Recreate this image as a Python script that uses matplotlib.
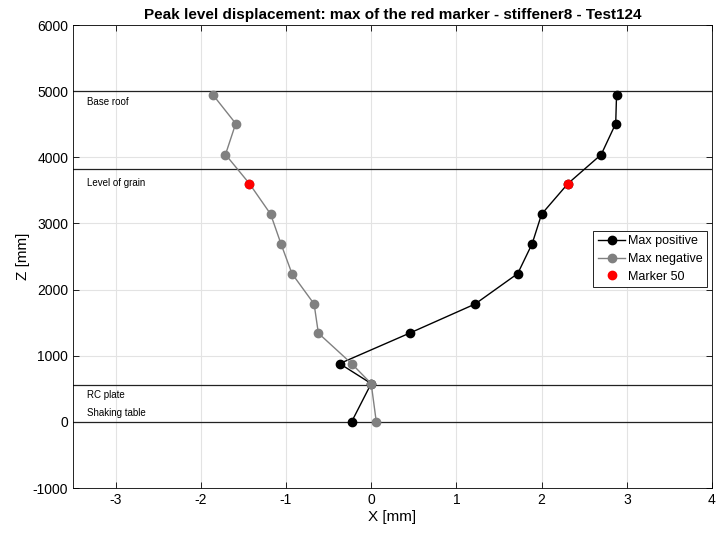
import numpy as np
import matplotlib.pyplot as plt

plt.rcParams['font.family'] = ['Liberation Sans', 'DejaVu Sans']
plt.rcParams['axes.unicode_minus'] = False

# level heights [mm]
z = [0, 579, 881, 1341, 1782, 2242, 2696, 3140, 3603, 4042, 4510, 4949]
x_pos = [-0.23, 0.0, -0.37, 0.45, 1.22, 1.72, 1.89, 2.00, 2.31, 2.70, 2.87, 2.88]
x_neg = [0.06, 0.0, -0.23, -0.62, -0.67, -0.93, -1.06, -1.18, -1.43, -1.71, -1.59, -1.86]
marker_idx = 8

# reference levels
levels = [5000, 3820, 555, 0]
level_names = ['Base roof', 'Level of grain', 'RC plate', 'Shaking table']
label_z = [4840, 3610, 410, 140]

fig = plt.figure(figsize=(7.17, 5.39), dpi=100)
ax = fig.add_axes([0.1018, 0.0946, 0.8912, 0.859])

for lv in levels:
    ax.axhline(lv, color='#222222', lw=0.9, zorder=1)
for name, lz in zip(level_names, label_z):
    ax.text(-3.33, lz, name, fontsize=7, va='center', ha='left')

ax.plot(x_pos, z, '-o', color='black', lw=1, ms=6, label='Max positive', zorder=3)
ax.plot(x_neg, z, '-o', color='#808080', lw=1, ms=6, label='Max negative', zorder=3)
ax.plot([x_pos[marker_idx], x_neg[marker_idx]], [z[marker_idx], z[marker_idx]], 'o',
        color='red', ms=6, ls='none', label='Marker 50', zorder=4)

ax.set_xlim(-3.5, 4)
ax.set_ylim(-1000, 6000)
ax.set_xticks(np.arange(-3, 5, 1))
ax.set_yticks(np.arange(-1000, 7000, 1000))
ax.grid(True, color='#e3e3e3', lw=0.8)
ax.set_axisbelow(True)
ax.tick_params(direction='in', top=True, right=True, labelsize=10, length=4, width=0.6)
for sp in ax.spines.values():
    sp.set_linewidth(0.6)

ax.set_xlabel('X [mm]', fontsize=11, labelpad=2)
ax.set_ylabel('Z [mm]', fontsize=11, labelpad=2)
ax.set_title('Peak level displacement: max of the red marker - stiffener8 - Test124',
             fontsize=11, fontweight='bold', pad=4)

leg = ax.legend(loc='upper right', bbox_to_anchor=(0.992, 0.555), fontsize=9,
                fancybox=False, edgecolor='black', framealpha=1, borderpad=0.35,
                labelspacing=0.45, handlelength=2.2, handletextpad=0.2, borderaxespad=0)
leg.get_frame().set_linewidth(0.6)

fig.savefig('out.png', dpi=100)
